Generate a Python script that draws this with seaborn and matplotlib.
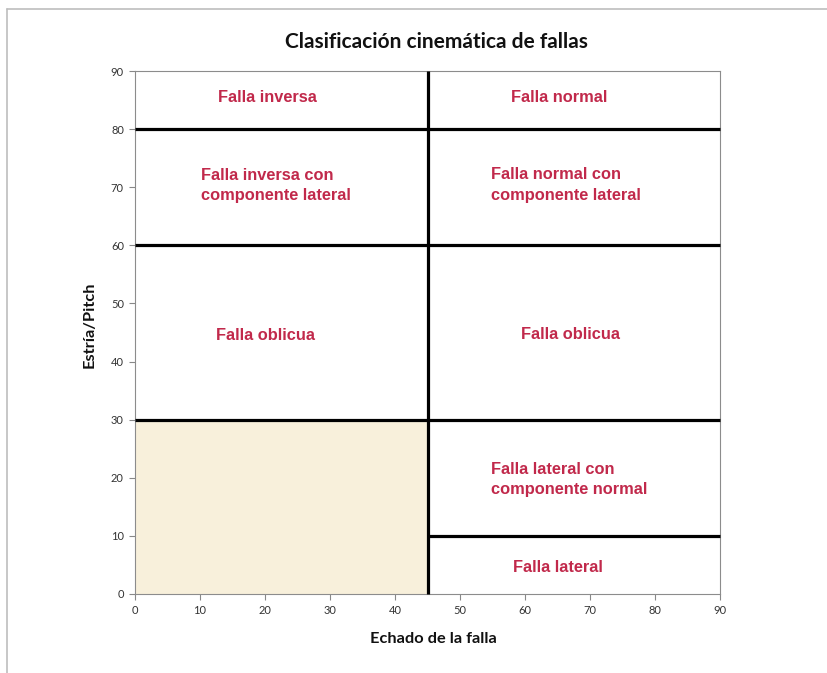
import matplotlib
matplotlib.use("Agg")
import matplotlib.pyplot as plt
import seaborn as sns
import pandas as pd
from matplotlib.lines import Line2D

# ---- data ----
seg_id = ["v45", "v45", "h80", "h80", "h60", "h60", "h30", "h30", "h10", "h10"]
seg_x = [45, 45, 0, 90, 0, 90, 0, 90, 45, 90]
seg_y = [0, 90, 80, 80, 60, 60, 30, 30, 10, 10]

region_labels = [
    "Falla inversa",
    "Falla normal",
    "Falla inversa con\ncomponente lateral",
    "Falla normal con\ncomponente lateral",
    "Falla oblicua",
    "Falla oblicua",
    "Falla lateral con\ncomponente normal",
    "Falla lateral",
]
label_x = [12.8, 57.8, 10.2, 54.8, 12.5, 59.4, 54.8, 58.2]
label_y = [85.4, 85.4, 70.3, 70.4, 44.4, 44.6, 19.7, 4.5]

shade_x = [0, 45]
shade_y = [0, 30]

x_ticks = [0, 10, 20, 30, 40, 50, 60, 70, 80, 90]
y_ticks = [0, 10, 20, 30, 40, 50, 60, 70, 80, 90]

title = "Clasificación cinemática de fallas"
xlabel = "Echado de la falla"
ylabel = "Estría/Pitch"

# ---- plot ----
sns.set_theme(style="white")
plt.rcParams["font.family"] = ["Lato", "DejaVu Sans"]

W, H = 827, 673
fig = plt.figure(figsize=(W / 100, H / 100), dpi=100)
ax = fig.add_axes([135 / W, 1 - 594 / H, (720 - 135) / W, (594 - 71) / H])

ax.fill_between(shade_x, shade_y[0], shade_y[1], color="#F8F0DB", linewidth=0, zorder=0)

df = pd.DataFrame({"seg": seg_id, "x": seg_x, "y": seg_y})
sns.lineplot(data=df, x="x", y="y", units="seg", estimator=None, sort=False,
             color="black", linewidth=2.3, ax=ax, zorder=3, legend=False)
for ln in ax.lines:
    ln.set_solid_capstyle("butt")
    ln.set_clip_on(False)

for txt, tx, ty in zip(region_labels, label_x, label_y):
    ax.text(tx, ty, txt, ha="left", va="center", fontsize=11.8, fontweight="bold",
            color="#C1294B", family=["Liberation Sans", "DejaVu Sans"], linespacing=1.45)

ax.set_xlim(0, 90)
ax.set_ylim(0, 90)
ax.set_xticks(x_ticks)
ax.set_yticks(y_ticks)
ax.tick_params(axis="both", labelsize=8, length=4, width=0.8, color="#888888",
               direction="out", bottom=True, left=True, pad=4, labelcolor="#333333")
for s in ax.spines.values():
    s.set_color("#8c8c8c")
    s.set_linewidth(0.8)

ax.set_xlabel("")
ax.set_ylabel("")
fig.text(433 / W, 1 - 639 / H, xlabel, ha="center", va="center",
         fontsize=11.8, fontweight="bold", color="#111111")
fig.text(90 / W, 1 - 325 / H, ylabel, ha="center", va="center", rotation=90,
         fontsize=11.8, fontweight="bold", color="#111111")
fig.text(436 / W, 1 - 42 / H, title, ha="center", va="center",
         fontsize=15, fontweight="bold", color="#111111")

# outer chart frame (top and left edges visible)
fig.add_artist(Line2D([7 / W, 1.0], [1 - 9 / H, 1 - 9 / H], color="#bdbdbd", linewidth=1.2,
                      transform=fig.transFigure))
fig.add_artist(Line2D([7 / W, 7 / W], [0, 1 - 9 / H], color="#bdbdbd", linewidth=1.2,
                      transform=fig.transFigure))

fig.savefig("out.png", dpi=100)
